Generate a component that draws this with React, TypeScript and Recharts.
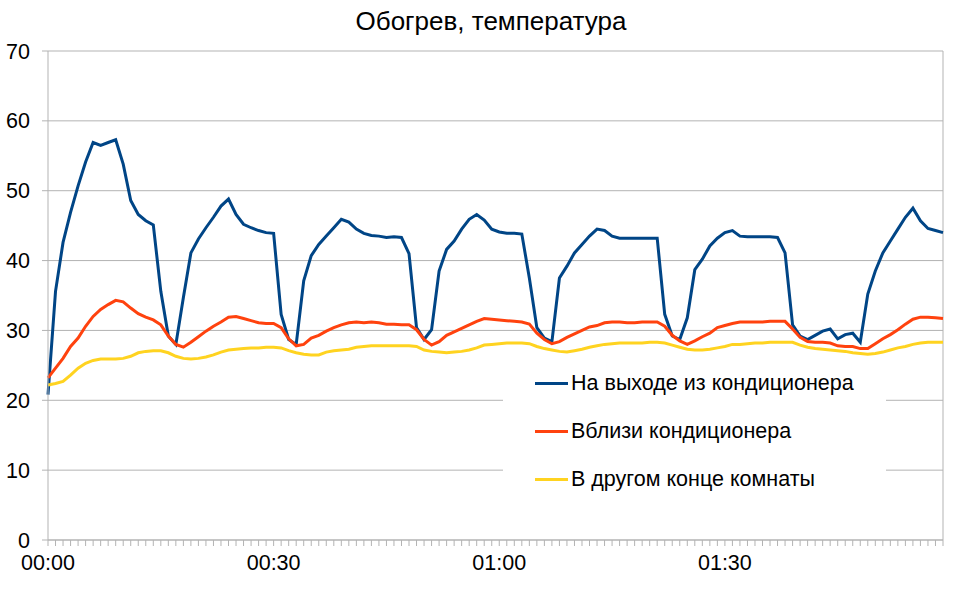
import React from 'react';
import { LineChart, Line, XAxis, YAxis, CartesianGrid, ReferenceLine } from 'recharts';

const minutes: number[] = Array.from({ length: 120 }, (_, i) => i);

const outletTemp: number[] = [
  20.8, 35.6, 42.6, 46.9, 50.7, 54.1, 56.9, 56.5, 56.9, 57.3,
  53.8, 48.6, 46.6, 45.7, 45.1, 35.6, 29.2, 28.0, 34.7, 41.1,
  43.1, 44.7, 46.2, 47.8, 48.8, 46.6, 45.2, 44.7, 44.3, 44.0,
  43.9, 32.3, 28.7, 28.0, 37.1, 40.7, 42.3, 43.5, 44.7, 45.9,
  45.5, 44.5, 43.9, 43.6, 43.5, 43.3, 43.4, 43.3, 41.0, 30.4,
  28.7, 30.1, 38.5, 41.6, 42.8, 44.5, 45.9, 46.6, 45.8, 44.5,
  44.1, 43.9, 43.9, 43.8, 37.5, 30.4, 28.9, 28.4, 37.5, 39.2,
  41.1, 42.3, 43.5, 44.5, 44.3, 43.5, 43.2, 43.2, 43.2, 43.2,
  43.2, 43.2, 32.3, 29.2, 28.7, 31.8, 38.7, 40.2, 42.1, 43.2,
  44.0, 44.3, 43.5, 43.4, 43.4, 43.4, 43.4, 43.3, 41.1, 30.8,
  29.2, 28.7, 29.3, 29.9, 30.2, 28.8, 29.4, 29.6, 28.3, 35.2,
  38.5, 41.1, 42.8, 44.5, 46.2, 47.5, 45.7, 44.6, 44.3, 44.0,
];

const nearTemp: number[] = [
  23.2, 24.6, 26.0, 27.7, 28.9, 30.6, 32.0, 33.0, 33.7, 34.3,
  34.1, 33.2, 32.4, 31.9, 31.5, 30.8, 29.2, 28.0, 27.6, 28.3,
  29.1, 29.9, 30.6, 31.2, 31.9, 32.0, 31.7, 31.4, 31.1, 31.0,
  31.0, 30.4, 28.8, 27.8, 28.0, 28.9, 29.3, 29.9, 30.4, 30.8,
  31.1, 31.2, 31.1, 31.2, 31.1, 30.9, 30.9, 30.8, 30.8, 30.1,
  28.7, 27.9, 28.4, 29.3, 29.8, 30.3, 30.8, 31.3, 31.7, 31.6,
  31.5, 31.4, 31.3, 31.2, 30.9, 29.6, 28.7, 28.1, 28.4, 29.0,
  29.5, 30.0, 30.5, 30.7, 31.1, 31.2, 31.2, 31.1, 31.1, 31.2,
  31.2, 31.2, 30.6, 29.3, 28.5, 28.0, 28.5, 29.1, 29.6, 30.4,
  30.7, 31.0, 31.2, 31.2, 31.2, 31.2, 31.3, 31.3, 31.3, 30.2,
  29.0, 28.4, 28.3, 28.3, 28.2, 27.8, 27.7, 27.7, 27.4, 27.4,
  28.1, 28.8, 29.4, 30.1, 30.9, 31.6, 31.9, 31.9, 31.8, 31.7,
];

const farTemp: number[] = [
  22.2, 22.4, 22.7, 23.6, 24.6, 25.3, 25.7, 25.9, 25.9, 25.9,
  26.0, 26.3, 26.8, 27.0, 27.1, 27.1, 26.8, 26.3, 26.0, 25.9,
  26.0, 26.2, 26.5, 26.9, 27.2, 27.3, 27.4, 27.5, 27.5, 27.6,
  27.6, 27.5, 27.1, 26.8, 26.6, 26.5, 26.5, 26.9, 27.1, 27.2,
  27.3, 27.6, 27.7, 27.8, 27.8, 27.8, 27.8, 27.8, 27.8, 27.7,
  27.2, 27.0, 26.9, 26.8, 26.9, 27.0, 27.2, 27.5, 27.9, 28.0,
  28.1, 28.2, 28.2, 28.2, 28.1, 27.7, 27.4, 27.2, 27.0, 26.9,
  27.1, 27.3, 27.6, 27.8, 28.0, 28.1, 28.2, 28.2, 28.2, 28.2,
  28.3, 28.3, 28.2, 27.9, 27.6, 27.3, 27.2, 27.2, 27.3, 27.5,
  27.7, 28.0, 28.0, 28.1, 28.2, 28.2, 28.3, 28.3, 28.3, 28.3,
  27.9, 27.6, 27.4, 27.3, 27.2, 27.1, 27.0, 26.8, 26.7, 26.6,
  26.7, 26.9, 27.2, 27.5, 27.7, 28.0, 28.2, 28.3, 28.3, 28.3,
];

const yTicks: number[] = [0, 10, 20, 30, 40, 50, 60, 70];
const seriesNames: string[] = ['На выходе из кондиционера', 'Вблизи кондиционера', 'В другом конце комнаты'];
const seriesColors: string[] = ['#004586', '#ff420e', '#ffd320'];
const chartTitle = 'Обогрев, температура';

const data = minutes.map((t, i) => ({
  t,
  outlet: outletTemp[i],
  near: nearTemp[i],
  far: farTemp[i],
}));

const fmtTime = (m: number) => {
  if (m % 30 !== 0) return '';
  const h = Math.floor(m / 60);
  const mm = m % 60;
  return `${String(h).padStart(2, '0')}:${String(mm).padStart(2, '0')}`;
};

const FONT = '"Liberation Sans", Arial, sans-serif';
const AXIS_FS = 21.5;

const LegendBox = () => (
  <div style={{ position: 'absolute', left: 503, top: 358, width: 383, height: 145, background: '#fff', fontFamily: FONT, zIndex: 2 }}>
    {seriesNames.map((name, i) => (
      <div key={name} style={{ position: 'absolute', left: 32, top: 25 + i * 48 - 14, height: 28, display: 'flex', alignItems: 'center' }}>
        <div style={{ width: 33, height: 3, background: seriesColors[i] }} />
        <span style={{ marginLeft: 3, fontSize: AXIS_FS, color: '#000', whiteSpace: 'nowrap', lineHeight: '28px' }}>{name}</span>
      </div>
    ))}
  </div>
);

export default function App() {
  return (
    <div style={{ position: 'absolute', left: 0, top: 0, width: 964, height: 600, background: '#fff', fontFamily: FONT }}>
      <div style={{ position: 'absolute', left: 0, top: 6, width: 982, textAlign: 'center', fontSize: 26, color: '#000', zIndex: 2 }}>
        {chartTitle}
      </div>
      <LineChart width={964} height={600} data={data} margin={{ top: 51, right: 21, left: 0, bottom: 30 }}>
        <CartesianGrid horizontal vertical={false} stroke="#b3b3b3" strokeWidth={1} />
        <XAxis
          dataKey="t"
          type="number"
          domain={[0, 119]}
          ticks={minutes}
          interval={0}
          height={30}
          tickFormatter={fmtTime}
          tickSize={6}
          tickMargin={9}
          stroke="#b3b3b3"
          tick={{ fill: '#000', fontSize: AXIS_FS, fontFamily: FONT }}
          allowDecimals={false}
        />
        <YAxis
          domain={[0, 70]}
          ticks={yTicks}
          width={48}
          tickSize={6}
          tickMargin={12}
          stroke="#b3b3b3"
          tick={{ fill: '#000', fontSize: AXIS_FS, fontFamily: FONT }}
          interval={0}
        />
        <ReferenceLine x={119} stroke="#b3b3b3" strokeWidth={1} />
        <Line type="linear" dataKey="outlet" name={seriesNames[0]} stroke={seriesColors[0]} strokeWidth={3} dot={false} isAnimationActive={false} />
        <Line type="linear" dataKey="near" name={seriesNames[1]} stroke={seriesColors[1]} strokeWidth={3} dot={false} isAnimationActive={false} />
        <Line type="linear" dataKey="far" name={seriesNames[2]} stroke={seriesColors[2]} strokeWidth={3} dot={false} isAnimationActive={false} />
      </LineChart>
      <LegendBox />
    </div>
  );
}
